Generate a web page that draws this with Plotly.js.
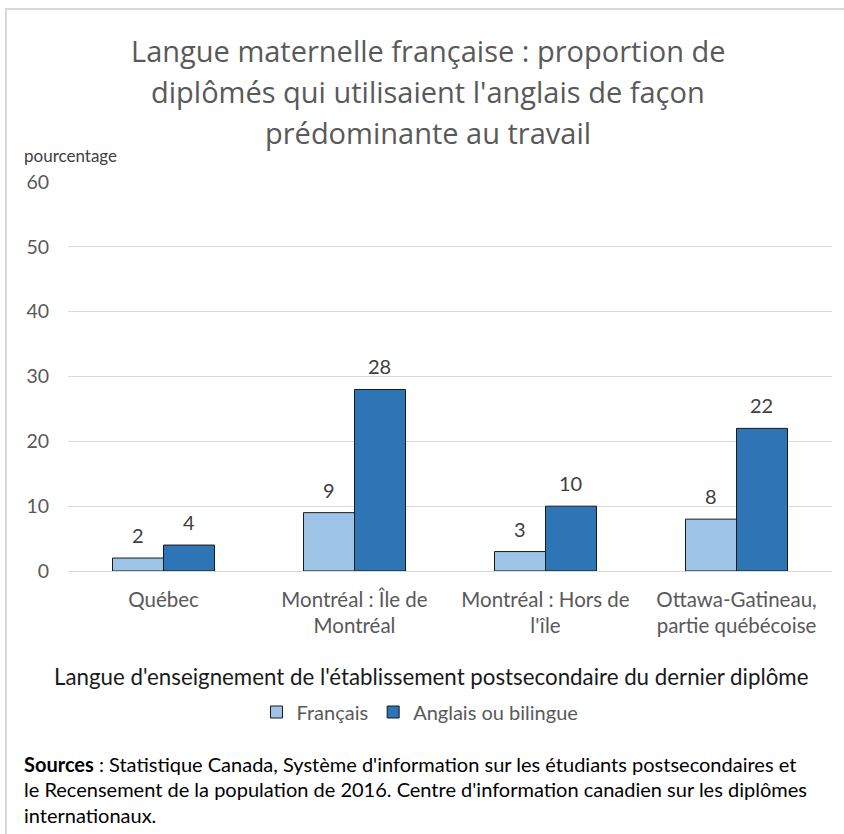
<!DOCTYPE html>
<html>
<head>
<meta charset="utf-8">
<script src="https://cdn.plot.ly/plotly-3.0.1.min.js"></script>
<style>
  html, body { margin: 0; padding: 0; background: #ffffff; }
  #wrap { position: relative; width: 844px; height: 834px; overflow: hidden; }
  #chart { position: absolute; left: 0; top: 0; width: 844px; height: 834px; }
  #frame { position: absolute; left: 5px; top: 8px; width: 860px; height: 860px;
           border-top: 2px solid #d9d9d9; border-left: 2px solid #d9d9d9; pointer-events: none; }
</style>
</head>
<body>
<div id="wrap">
  <div id="chart"></div>
  <div id="frame"></div>
</div>
<script>
// ---- Data ----
const categories = [
  "Québec",
  "Montréal : Île de<br>Montréal",
  "Montréal : Hors de<br>l'île",
  "Ottawa-Gatineau,<br>partie québécoise"
];
const seriesNames = ["Français", "Anglais ou bilingue"];
const francais = [2, 9, 3, 8];
const anglais = [4, 28, 10, 22];
const yTicks = [0, 10, 20, 30, 40, 50, 60];

const titleLines = [
  "Langue maternelle française : proportion de",
  "diplômés qui utilisaient l'anglais de façon",
  "prédominante au travail"
];
const xTitle = "Langue d'enseignement de l'établissement postsecondaire du dernier diplôme";
const yTitle = "pourcentage";
const sourceLines = [
  "<b>Sources</b> : Statistique Canada, Système d'information sur les étudiants postsecondaires et",
  "le Recensement de la population de 2016. Centre d'information canadien sur les diplômes",
  "internationaux."
];

// ---- Layout constants ----
const W = 844, H = 834;
const M = { l: 68, r: 12, t: 182, b: 263 };
const plotW = W - M.l - M.r, plotH = H - M.t - M.b;
const px2x = p => (p - M.l) / plotW;
const py2y = p => (H - M.b - p) / plotH;

const colors = ["#9DC3E6", "#2E75B6"];
const bargap = 0.466;
const catW = plotW / categories.length;
const barW = catW * (1 - bargap) / 2;

const FONT = "Open Sans, sans-serif";
const FONT2 = "Lato, sans-serif";

const traces = [francais, anglais].map((vals, i) => ({
  type: "bar",
  name: seriesNames[i],
  x: categories,
  y: vals,
  marker: { color: colors[i], line: { color: "#1a1a1a", width: 1 } },
  hoverinfo: "x+y+name"
}));

const annotations = [];
// Data labels
[francais, anglais].forEach((vals, i) => {
  vals.forEach((v, j) => {
    annotations.push({
      x: categories[j], y: v, xref: "x", yref: "y",
      xshift: (i === 0 ? -1 : 1) * barW / 2,
      yshift: 9,
      text: String(v), showarrow: false,
      xanchor: "center", yanchor: "bottom",
      font: { family: FONT2, size: 20, color: "#404040" }
    });
  });
});
// Title lines
const titleY = [50, 91, 132];
titleLines.forEach((t, k) => {
  annotations.push({
    xref: "paper", yref: "paper", x: px2x(428), y: py2y(titleY[k]),
    xanchor: "center", yanchor: "middle", showarrow: false, text: t,
    font: { family: FONT, size: 29, color: "#595959" }
  });
});
// Y axis title
annotations.push({
  xref: "paper", yref: "paper", x: px2x(22), y: py2y(155),
  xanchor: "left", yanchor: "middle", showarrow: false, text: yTitle,
  font: { family: FONT2, size: 17, color: "#404040" }
});
// X axis title
annotations.push({
  xref: "paper", yref: "paper", x: px2x(431), y: py2y(676),
  xanchor: "center", yanchor: "middle", showarrow: false, text: xTitle,
  font: { family: FONT2, size: 22.3, color: "#1a1a1a" }
});
// Source lines
const srcY = [764, 789, 815];
sourceLines.forEach((t, k) => {
  annotations.push({
    xref: "paper", yref: "paper", x: px2x(22), y: py2y(srcY[k]),
    xanchor: "left", yanchor: "middle", showarrow: false, text: t, align: "left",
    font: { family: FONT2, size: 20, color: "#000000" }
  });
});

const layout = {
  width: W, height: H,
  margin: M,
  paper_bgcolor: "#ffffff", plot_bgcolor: "#ffffff",
  barmode: "group", bargap: bargap, bargroupgap: 0,
  showlegend: true,
  legend: {
    orientation: "h", xref: "paper", yref: "paper",
    x: px2x(420), xanchor: "center", y: py2y(712), yanchor: "middle",
    font: { family: FONT2, size: 20, color: "#595959" },
    itemwidth: 30, tracegroupgap: 0,
    bgcolor: "rgba(0,0,0,0)"
  },
  xaxis: {
    type: "category",
    showgrid: false, zeroline: false, showline: false, ticks: "",
    tickfont: { family: FONT2, size: 20.5, color: "#595959" },
    ticklabelstandoff: 14
  },
  yaxis: {
    range: [0, 60], tickvals: yTicks, ticktext: yTicks.map(String),
    showgrid: true, gridcolor: "#d9d9d9", gridwidth: 1,
    zeroline: true, zerolinecolor: "#d9d9d9", zerolinewidth: 1,
    showline: false, ticks: "",
    tickfont: { family: FONT2, size: 19.5, color: "#595959" },
    ticklabelstandoff: 18
  },
  annotations: annotations
};

Plotly.newPlot("chart", traces, layout, { displayModeBar: false, staticPlot: false });
</script>
</body>
</html>
